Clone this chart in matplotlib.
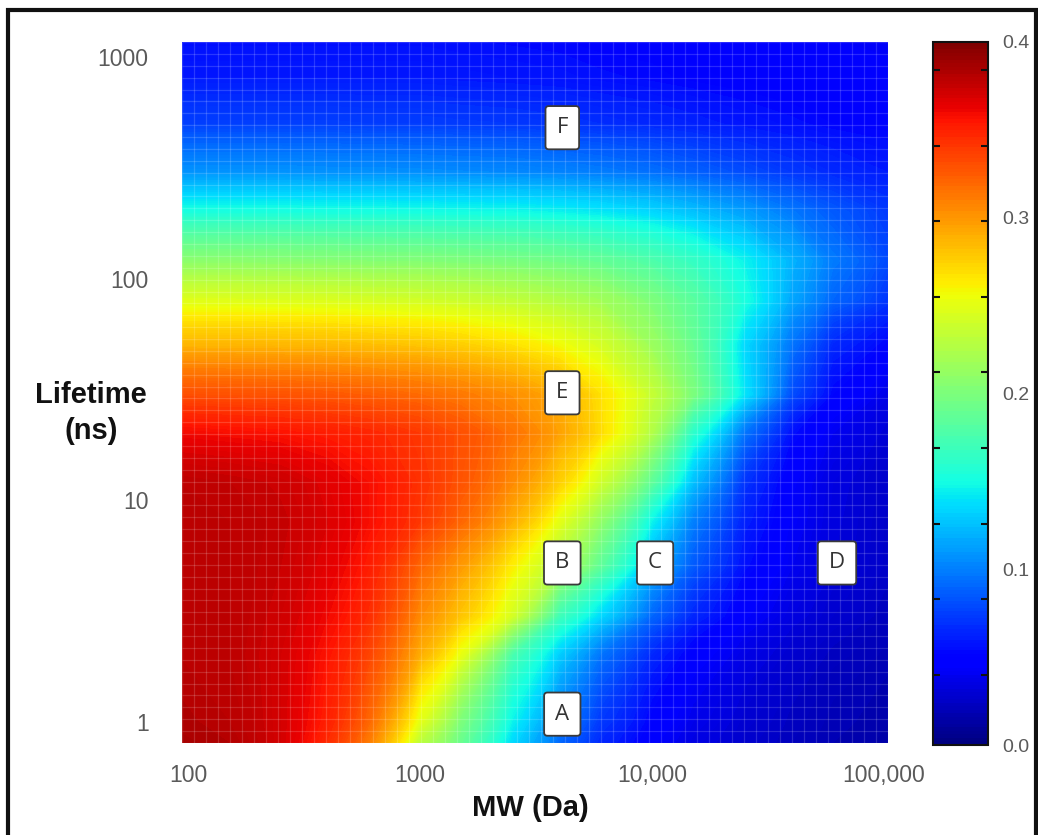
import numpy as np
import matplotlib
matplotlib.use("Agg")
import matplotlib.pyplot as plt
from matplotlib.patches import Rectangle
from matplotlib.collections import LineCollection

plt.rcParams['font.family'] = ['Liberation Sans', 'DejaVu Sans']

# ---- data ----
MW_DA = [90, 150, 250, 400, 600, 1000, 1500, 2500, 4000, 6000,
         10000, 15000, 25000, 40000, 60000, 105000]
LIFETIME_NS = [0.8, 1, 2, 3, 5, 8, 12, 20, 30, 50, 80, 120, 200, 300, 500, 800, 1200]

ROW_0_8 = [0.385, 0.382, 0.370, 0.345, 0.310, 0.230, 0.190, 0.135, 0.090, 0.065, 0.045, 0.035, 0.027, 0.022, 0.018, 0.015]
ROW_1 = [0.383, 0.380, 0.370, 0.350, 0.320, 0.250, 0.200, 0.145, 0.100, 0.072, 0.050, 0.038, 0.029, 0.023, 0.019, 0.016]
ROW_2 = [0.380, 0.378, 0.370, 0.355, 0.335, 0.290, 0.252, 0.175, 0.130, 0.095, 0.065, 0.048, 0.036, 0.028, 0.023, 0.019]
ROW_3 = [0.380, 0.378, 0.372, 0.360, 0.345, 0.305, 0.280, 0.243, 0.170, 0.135, 0.090, 0.065, 0.045, 0.034, 0.028, 0.022]
ROW_5 = [0.380, 0.378, 0.374, 0.365, 0.352, 0.320, 0.298, 0.262, 0.225, 0.185, 0.120, 0.085, 0.055, 0.040, 0.032, 0.025]
ROW_8 = [0.380, 0.378, 0.375, 0.368, 0.358, 0.340, 0.320, 0.290, 0.250, 0.210, 0.145, 0.100, 0.062, 0.043, 0.033, 0.025]
ROW_12 = [0.378, 0.376, 0.373, 0.366, 0.358, 0.343, 0.328, 0.305, 0.275, 0.240, 0.185, 0.125, 0.070, 0.045, 0.034, 0.026]
ROW_20 = [0.360, 0.358, 0.356, 0.352, 0.348, 0.340, 0.330, 0.315, 0.295, 0.270, 0.225, 0.160, 0.095, 0.055, 0.040, 0.030]
ROW_30 = [0.330, 0.329, 0.328, 0.326, 0.323, 0.318, 0.312, 0.303, 0.290, 0.268, 0.235, 0.200, 0.140, 0.080, 0.052, 0.036]
ROW_50 = [0.287, 0.287, 0.286, 0.285, 0.283, 0.280, 0.276, 0.268, 0.257, 0.243, 0.215, 0.190, 0.135, 0.095, 0.065, 0.050]
ROW_80 = [0.247, 0.247, 0.246, 0.245, 0.243, 0.241, 0.238, 0.233, 0.226, 0.218, 0.200, 0.183, 0.152, 0.115, 0.090, 0.070]
ROW_120 = [0.207, 0.207, 0.206, 0.205, 0.204, 0.203, 0.201, 0.198, 0.194, 0.188, 0.177, 0.165, 0.145, 0.120, 0.098, 0.078]
ROW_200 = [0.152, 0.152, 0.152, 0.151, 0.151, 0.150, 0.149, 0.148, 0.145, 0.141, 0.134, 0.125, 0.112, 0.097, 0.085, 0.072]
ROW_300 = [0.108, 0.108, 0.108, 0.107, 0.107, 0.106, 0.105, 0.104, 0.102, 0.099, 0.094, 0.088, 0.080, 0.072, 0.066, 0.060]
ROW_500 = [0.075, 0.075, 0.075, 0.075, 0.074, 0.074, 0.073, 0.072, 0.070, 0.068, 0.065, 0.062, 0.058, 0.055, 0.052, 0.050]
ROW_800 = [0.060, 0.060, 0.060, 0.060, 0.060, 0.060, 0.059, 0.058, 0.057, 0.055, 0.053, 0.051, 0.049, 0.047, 0.046, 0.045]
ROW_1200 = [0.055, 0.055, 0.055, 0.055, 0.055, 0.055, 0.054, 0.053, 0.052, 0.050, 0.050, 0.048, 0.046, 0.045, 0.044, 0.043]

VALUES = [ROW_0_8, ROW_1, ROW_2, ROW_3, ROW_5, ROW_8, ROW_12, ROW_20, ROW_30,
          ROW_50, ROW_80, ROW_120, ROW_200, ROW_300, ROW_500, ROW_800, ROW_1200]

X_TICKS = [100, 1000, 10000, 100000]
X_TICK_LABELS = ["100", "1000", "10,000", "100,000"]
Y_TICKS = [1, 10, 100, 1000]
Y_TICK_LABELS = ["1", "10", "100", "1000"]
CBAR_TICKS = [0.0, 0.1, 0.2, 0.3, 0.4]
CBAR_TICK_LABELS = ["0.0", "0.1", "0.2", "0.3", "0.4"]

BOX_LABELS = ["F", "E", "B", "C", "D", "A"]
BOX_MW = [4100, 4100, 4100, 10300, 62700, 4100]
BOX_LIFETIME = [480, 30.5, 5.2, 5.2, 5.2, 1.08]

# ---- figure ----
W, H = 1038, 835
fig = plt.figure(figsize=(W / 100, H / 100), dpi=100)
ax = fig.add_axes([182 / W, 92 / H, 706 / W, 701 / H])
cax = fig.add_axes([933 / W, 90 / H, 55 / W, 703 / H])

Z = np.array(VALUES)
levels = np.linspace(0.0, 0.4, 201)
cs = ax.contourf(MW_DA, LIFETIME_NS, Z, levels=levels, cmap='jet',
                 vmin=0.0, vmax=0.4)
ax.set_xscale('log')
ax.set_yscale('log')
ax.set_xlim(94, 104000)
ax.set_ylim(0.80, 1170)

# faint white mesh texture like the reference
n = 60
segs = [[(t, 0), (t, 1)] for t in np.linspace(0, 1, n)] + \
       [[(0, t), (1, t)] for t in np.linspace(0, 1, n)]
lc = LineCollection(segs, colors='white', linewidths=0.9, alpha=0.16,
                    transform=ax.transAxes)
ax.add_collection(lc)

for s in ax.spines.values():
    s.set_visible(False)

ax.set_xticks(X_TICKS)
ax.set_xticklabels(X_TICK_LABELS)
ax.set_yticks(Y_TICKS)
ax.set_yticklabels(Y_TICK_LABELS)
ax.minorticks_off()
ax.tick_params(axis='x', length=0, pad=15, labelsize=16.5, labelcolor='#5a5a5a')
ax.tick_params(axis='y', length=0, pad=24, labelsize=16.5, labelcolor='#5a5a5a')

ax.set_xlabel("MW (Da)", fontsize=21, fontweight='bold', color='#111111', va='center')
ax.xaxis.set_label_coords(0.494, -0.093)
ax.set_ylabel("Lifetime\n(ns)", fontsize=21, fontweight='bold', color='#111111',
              rotation=0, ha='center', va='center', linespacing=1.35)
ax.yaxis.set_label_coords(-0.129, 0.471)

for lab, mx, ly in zip(BOX_LABELS, BOX_MW, BOX_LIFETIME):
    ax.text(mx, ly, lab, ha='center', va='center', fontsize=16, color='#333333',
            family=['Open Sans', 'DejaVu Sans'],
            bbox=dict(boxstyle='round,pad=0.5,rounding_size=0.15', fc='white',
                      ec='#3a3a3a', lw=1.3))

# colorbar
cb = fig.colorbar(cs, cax=cax, ticks=CBAR_TICKS)
cb.set_ticklabels(CBAR_TICK_LABELS)
cax.set_ylim(0.0, 0.4)
cb.outline.set_linewidth(1.5)
cb.outline.set_edgecolor('#111111')
cax.tick_params(which='major', length=0, pad=10, labelsize=14, labelcolor='#5a5a5a')
cax.set_yticks([0.04, 0.083, 0.126, 0.169, 0.212, 0.255, 0.298, 0.341, 0.384], minor=True)
cax.tick_params(which='minor', direction='in', left=True, right=True, length=5,
                width=1.5, color='#111111')

# outer frame
frame = Rectangle((8 / W, -0.05), (1036 - 8) / W, (H - 10) / H + 0.05,
                  transform=fig.transFigure, fill=False, lw=3, ec='#111111')
fig.patches.append(frame)

fig.savefig("out.png", dpi=100)
